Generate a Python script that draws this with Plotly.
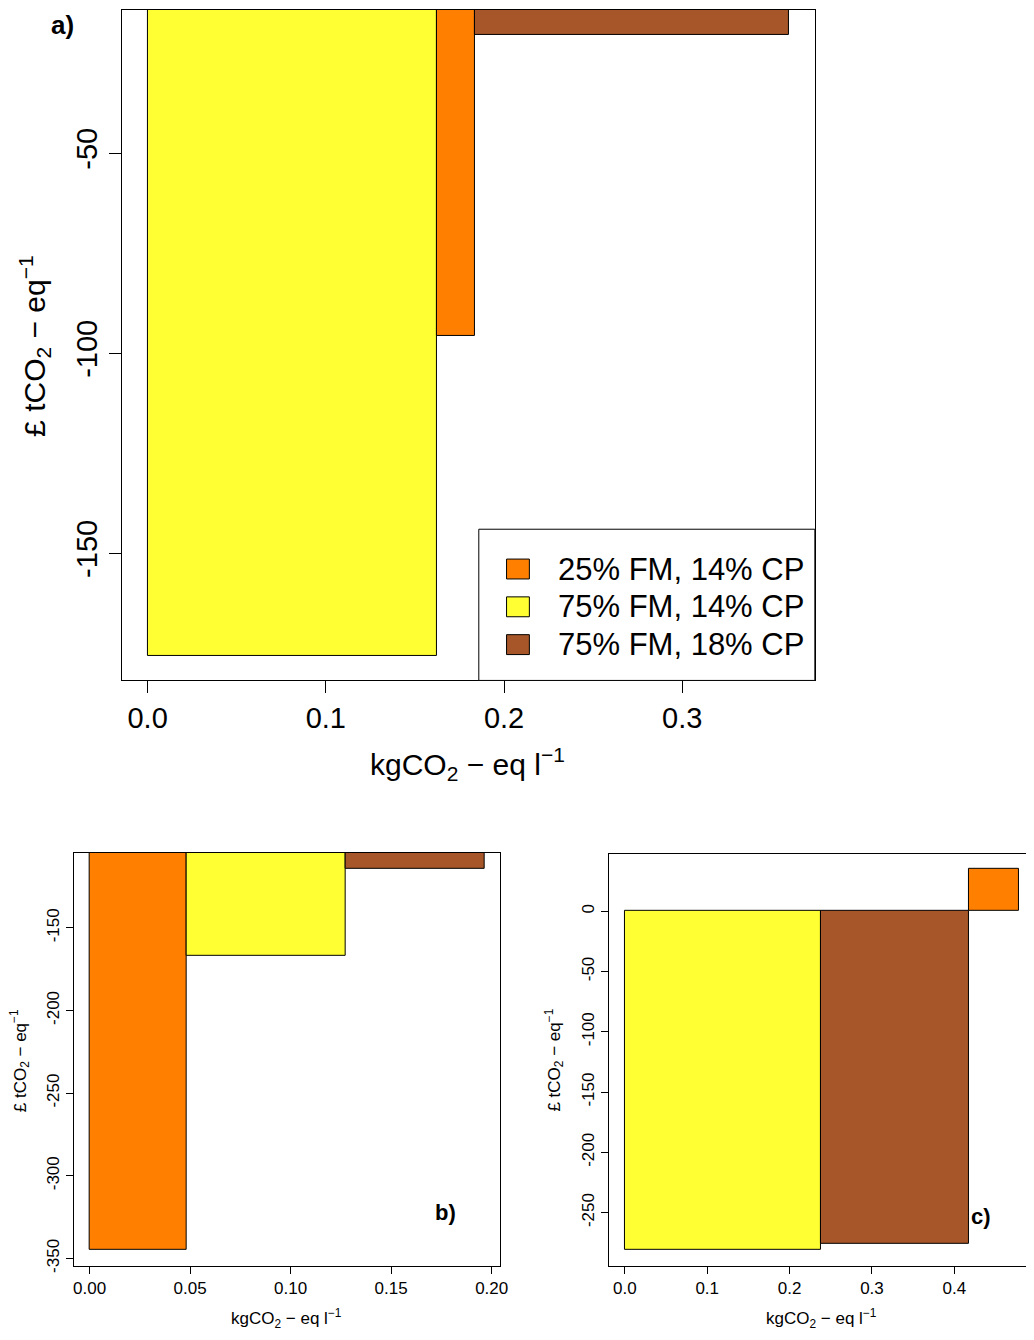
import numpy as np
import plotly.graph_objects as go

W, H = 1034, 1340

# ---------------- data ----------------
scheme_names = ["25% FM, 14% CP", "75% FM, 14% CP", "75% FM, 18% CP"]
scheme_colors = {"25% FM, 14% CP": "#FF7F00",
                 "75% FM, 14% CP": "#FFFF33",
                 "75% FM, 18% CP": "#A65628"}

# panel a (order along x)
a_schemes = ["75% FM, 14% CP", "25% FM, 14% CP", "75% FM, 18% CP"]
a_abatement = [0.1625, 0.0211, 0.1764]     # kgCO2-eq l-1 (bar widths)
a_cost = [-175.6, -95.8, -20.4]            # GBP tCO2-eq-1
a_xticks = [0.0, 0.1, 0.2, 0.3]
a_xticklabels = ["0.0", "0.1", "0.2", "0.3"]
a_yticks = [-150, -100, -50]
a_yticklabels = ["-150", "-100", "-50"]

# panel b
b_schemes = ["25% FM, 14% CP", "75% FM, 14% CP", "75% FM, 18% CP"]
b_abatement = [0.0485, 0.0789, 0.0690]
b_cost = [-344.9, -166.8, -114.3]
b_xticks = [0.0, 0.05, 0.10, 0.15, 0.20]
b_xticklabels = ["0.00", "0.05", "0.10", "0.15", "0.20"]
b_yticks = [-350, -300, -250, -200, -150]
b_yticklabels = ["-350", "-300", "-250", "-200", "-150"]

# panel c
c_schemes = ["75% FM, 14% CP", "75% FM, 18% CP", "25% FM, 14% CP"]
c_abatement = [0.2383, 0.1789, 0.0618]
c_cost = [-281.1, -275.6, 35.2]
c_xticks = [0.0, 0.1, 0.2, 0.3, 0.4]
c_xticklabels = ["0.0", "0.1", "0.2", "0.3", "0.4"]
c_yticks = [-250, -200, -150, -100, -50, 0]
c_yticklabels = ["-250", "-200", "-150", "-100", "-50", "0"]

FONT = "Liberation Sans, Arial, sans-serif"

def px(x):
    return x / W

def py(y):
    return 1 - y / H

fig = go.Figure()

panels = [
    ("x", "y", a_schemes, a_abatement, a_cost),
    ("x2", "y2", b_schemes, b_abatement, b_cost),
    ("x3", "y3", c_schemes, c_abatement, c_cost),
]
for xa, ya, sch, ab, cost in panels:
    ab = np.array(ab)
    right = np.cumsum(ab)
    left = right - ab
    for i, s in enumerate(sch):
        fig.add_trace(go.Bar(
            x=[(left[i] + right[i]) / 2], y=[cost[i]], width=[ab[i]], base=0,
            name=s, marker=dict(color=scheme_colors[s], line=dict(color="black", width=1)),
            xaxis=xa, yaxis=ya, showlegend=False))

common = dict(showgrid=False, zeroline=False, showline=True, linecolor="black", linewidth=1,
              ticks="outside", tickcolor="black", tickwidth=1, tickmode="array")

fig.update_layout(
    width=W, height=H, margin=dict(l=0, r=0, t=0, b=0),
    paper_bgcolor="white", plot_bgcolor="white", barmode="overlay", bargap=0,
    font=dict(family=FONT, color="black"),
    xaxis=dict(domain=[px(122), px(821)], range=[-0.0144, 0.3744],
               tickvals=a_xticks, ticktext=a_xticklabels, ticklen=12, mirror=True, anchor="y",
               tickfont=dict(size=29), **common),
    yaxis=dict(domain=[py(684), py(10)], range=[-181.8, -14.2],
               tickvals=a_yticks, ticktext=a_yticklabels,
               ticklen=12, mirror=True, anchor="x", tickangle=-90,
               tickfont=dict(size=29), **common),
    xaxis2=dict(domain=[px(73.3), px(503.3)], range=[-0.0079, 0.2041],
                tickvals=b_xticks, ticktext=b_xticklabels, ticklen=7, mirror=True, anchor="y2",
                tickfont=dict(size=17), **common),
    yaxis2=dict(domain=[py(1272.7), py(857.3)], range=[-354.6, -104.6],
                tickvals=b_yticks, ticktext=b_yticklabels,
                ticklen=7, mirror=True, anchor="x2", tickangle=-90,
                tickfont=dict(size=17), **common),
    xaxis3=dict(domain=[px(613.3), 1.0], range=[-0.01925, 0.487],
                tickvals=c_xticks, ticktext=c_xticklabels, ticklen=7, mirror=True, anchor="y3",
                tickfont=dict(size=17), **common),
    yaxis3=dict(domain=[py(1272.7), py(858.3)], range=[-294.3, 47.6],
                tickvals=c_yticks, ticktext=c_yticklabels,
                ticklen=7, mirror=False, anchor="x3", tickangle=-90,
                tickfont=dict(size=17), **common),
)

xt = "kgCO<sub>2</sub> − eq l<sup>−1</sup>"
yt = "£ tCO<sub>2</sub> − eq<sup>−1</sup>"
ann = [
    dict(x=px(471), y=py(768), text=xt, size=30, angle=0),
    dict(x=px(34), y=py(348), text=yt, size=30, angle=-90),
    dict(x=px(288), y=py(1325), text=xt, size=17, angle=0),
    dict(x=px(19), y=py(1066), text=yt, size=17, angle=-90),
    dict(x=px(828), y=py(1325), text=xt, size=17, angle=0),
    dict(x=px(558), y=py(1066), text=yt, size=17, angle=-90),
    dict(x=px(62), y=py(25), text="<b>a)</b>", size=26, angle=0),
    dict(x=px(448), y=py(1219), text="<b>b)</b>", size=22, angle=0),
    dict(x=px(989), y=py(1223), text="<b>c)</b>", size=22, angle=0),
]
for a in ann:
    fig.add_annotation(x=a["x"], y=a["y"], xref="paper", yref="paper", text=a["text"],
                       showarrow=False, textangle=a["angle"], xanchor="center", yanchor="middle",
                       font=dict(size=a["size"], family=FONT, color="black"))

# legend (panel a)
fig.add_shape(type="rect", xref="paper", yref="paper", x0=px(482), x1=px(821), y0=py(684), y1=py(532),
              line=dict(color="black", width=1), fillcolor="white", layer="above")
leg_y = [572, 610, 648]
for name, yy in zip(scheme_names, leg_y):
    fig.add_shape(type="rect", xref="paper", yref="paper", x0=px(510), x1=px(533),
                  y0=py(yy + 10), y1=py(yy - 10), line=dict(color="black", width=1),
                  fillcolor=scheme_colors[name], layer="above")
    fig.add_annotation(x=px(560), y=py(yy), xref="paper", yref="paper", text=name, showarrow=False,
                       xanchor="left", yanchor="middle", font=dict(size=31, family=FONT, color="black"))

fig.write_html("out.html")
